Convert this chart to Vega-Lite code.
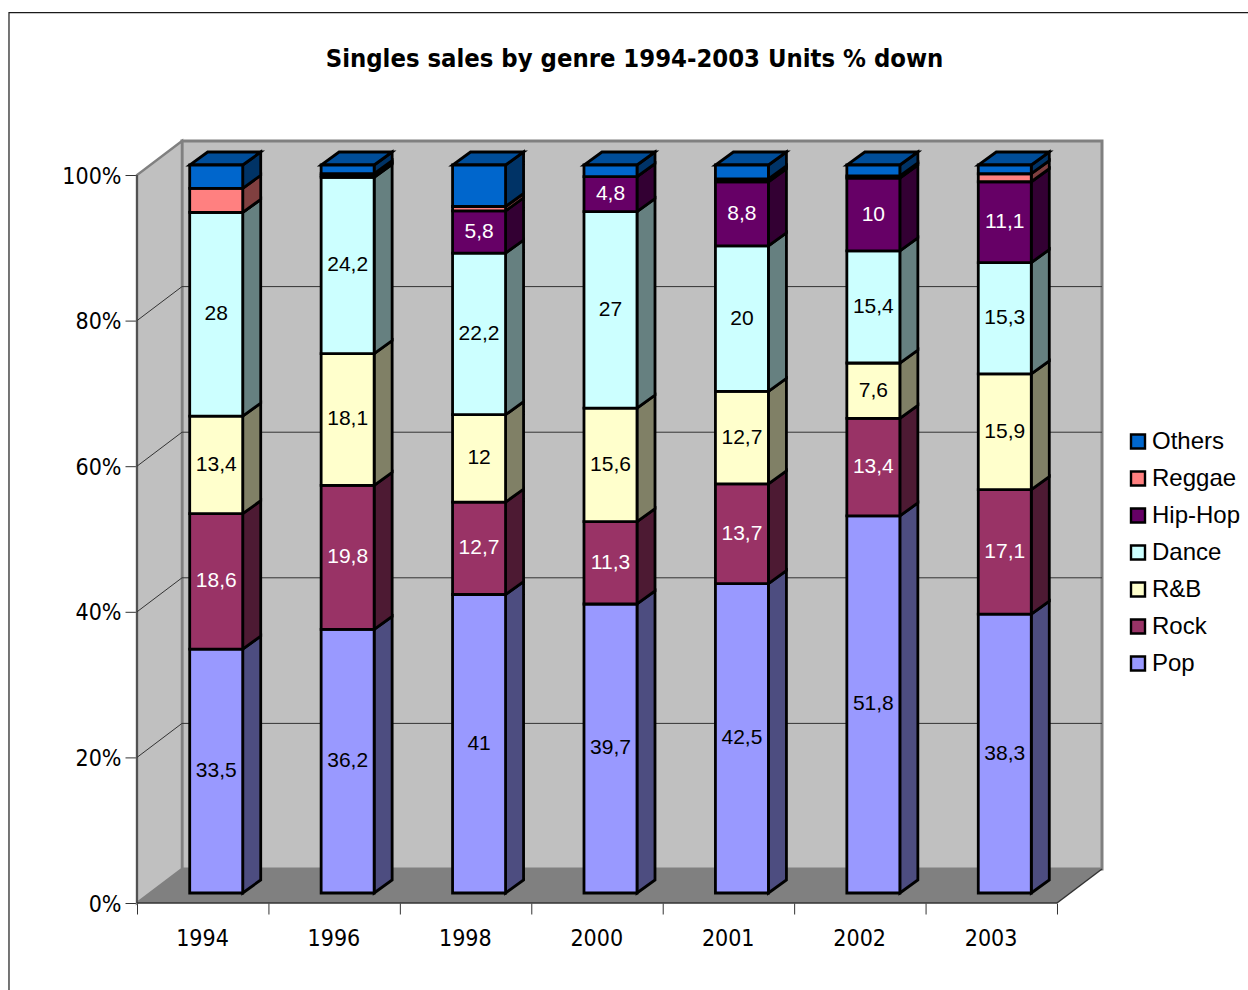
{
  "$schema": "https://vega.github.io/schema/vega-lite/v6.json",
  "width": 965,
  "height": 763,
  "autosize": {"type": "none"},
  "padding": {"left": 137, "top": 140, "right": 146, "bottom": 87},
  "background": "white",
  "config": {"view": {"stroke": null}},
  "title": {
    "text": "Singles sales by genre 1994-2003 Units % down",
    "font": "DejaVu Sans Condensed",
    "fontWeight": "bold",
    "fontSize": 25.4,
    "color": "black",
    "anchor": "middle",
    "frame": "group",
    "dx": 15,
    "offset": -60
  },
  "datasets": {
    "sales": [
      {"year": "1994", "genre": "Pop", "value": 33.5},
      {"year": "1994", "genre": "Rock", "value": 18.6},
      {"year": "1994", "genre": "R&B", "value": 13.4},
      {"year": "1994", "genre": "Dance", "value": 28},
      {"year": "1994", "genre": "Hip-Hop", "value": 0},
      {"year": "1994", "genre": "Reggae", "value": 3.3},
      {"year": "1994", "genre": "Others", "value": 3.2},
      {"year": "1996", "genre": "Pop", "value": 36.2},
      {"year": "1996", "genre": "Rock", "value": 19.8},
      {"year": "1996", "genre": "R&B", "value": 18.1},
      {"year": "1996", "genre": "Dance", "value": 24.2},
      {"year": "1996", "genre": "Hip-Hop", "value": 0.2},
      {"year": "1996", "genre": "Reggae", "value": 0.3},
      {"year": "1996", "genre": "Others", "value": 1.2},
      {"year": "1998", "genre": "Pop", "value": 41},
      {"year": "1998", "genre": "Rock", "value": 12.7},
      {"year": "1998", "genre": "R&B", "value": 12},
      {"year": "1998", "genre": "Dance", "value": 22.2},
      {"year": "1998", "genre": "Hip-Hop", "value": 5.8},
      {"year": "1998", "genre": "Reggae", "value": 0.6},
      {"year": "1998", "genre": "Others", "value": 5.7},
      {"year": "2000", "genre": "Pop", "value": 39.7},
      {"year": "2000", "genre": "Rock", "value": 11.3},
      {"year": "2000", "genre": "R&B", "value": 15.6},
      {"year": "2000", "genre": "Dance", "value": 27},
      {"year": "2000", "genre": "Hip-Hop", "value": 4.8},
      {"year": "2000", "genre": "Reggae", "value": 0},
      {"year": "2000", "genre": "Others", "value": 1.6},
      {"year": "2001", "genre": "Pop", "value": 42.5},
      {"year": "2001", "genre": "Rock", "value": 13.7},
      {"year": "2001", "genre": "R&B", "value": 12.7},
      {"year": "2001", "genre": "Dance", "value": 20},
      {"year": "2001", "genre": "Hip-Hop", "value": 8.8},
      {"year": "2001", "genre": "Reggae", "value": 0.4},
      {"year": "2001", "genre": "Others", "value": 1.9},
      {"year": "2002", "genre": "Pop", "value": 51.8},
      {"year": "2002", "genre": "Rock", "value": 13.4},
      {"year": "2002", "genre": "R&B", "value": 7.6},
      {"year": "2002", "genre": "Dance", "value": 15.4},
      {"year": "2002", "genre": "Hip-Hop", "value": 10},
      {"year": "2002", "genre": "Reggae", "value": 0.3},
      {"year": "2002", "genre": "Others", "value": 1.5},
      {"year": "2003", "genre": "Pop", "value": 38.3},
      {"year": "2003", "genre": "Rock", "value": 17.1},
      {"year": "2003", "genre": "R&B", "value": 15.9},
      {"year": "2003", "genre": "Dance", "value": 15.3},
      {"year": "2003", "genre": "Hip-Hop", "value": 11.1},
      {"year": "2003", "genre": "Reggae", "value": 1.1},
      {"year": "2003", "genre": "Others", "value": 1.2}
    ],
    "depthRange": [{"depth": 0}, {"depth": 1}],
    "gridLevels": [{"pct": 20}, {"pct": 40}, {"pct": 60}, {"pct": 80}],
    "one": [{"part": "chart"}]
  },
  "data": {"name": "sales"},
  "transform": [
    {"calculate": "indexof(['Pop','Rock','R&B','Dance','Hip-Hop','Reggae','Others'], datum.genre)", "as": "order"},
    {"calculate": "indexof(['1994','1996','1998','2000','2001','2002','2003'], datum.year)", "as": "slot"},
    {"stack": "value", "groupby": ["year"], "sort": [{"field": "order", "order": "ascending"}], "as": ["v0", "v1"]},
    {"calculate": "datum.slot + 0.401", "as": "xL"},
    {"calculate": "datum.xL + 0.4033", "as": "xR"},
    {"calculate": "datum.v0 + 1.374", "as": "yLow"},
    {"calculate": "datum.v1 + 1.374", "as": "yHigh"},
    {"calculate": "replace(toString(datum.value), '.', ',')", "as": "valueText"}
  ],
  "layer": [
    {
      "data": {"name": "one"},
      "mark": {"type": "rect", "fill": null, "stroke": "#1a1a1a", "strokeWidth": 1.2},
      "encoding": {
        "x": {
          "datum": -0.974,
          "type": "quantitative",
          "scale": {"domain": [0, 7.3424], "nice": false, "zero": false},
          "axis": {
            "values": [0, 1, 2, 3, 4, 5, 6, 7],
            "labelExpr": "['1994','1996','1998','2000','2001','2002','2003',''][datum.value]",
            "labelOffset": 65,
            "labelFont": "DejaVu Sans Condensed",
            "labelFontSize": 23,
            "labelColor": "black",
            "labelAlign": "center",
            "labelBound": false,
            "labelFlush": false,
            "labelOverlap": false,
            "labelPadding": 13,
            "tickSize": 11,
            "tickRound": false,
            "tickColor": "#333333",
            "domain": false,
            "grid": false,
            "title": null
          }
        },
        "x2": {"datum": 8.6},
        "y": {
          "datum": 122.3,
          "type": "quantitative",
          "scale": {"domain": [0, 104.808], "nice": false, "zero": false},
          "axis": {
            "values": [0, 20, 40, 60, 80, 100],
            "labelExpr": "datum.value + '%'",
            "labelFont": "DejaVu Sans Condensed",
            "labelFontSize": 23,
            "labelColor": "black",
            "labelPadding": 4,
            "labelOffset": 1,
            "tickSize": 12,
            "tickRound": false,
            "tickColor": "#333333",
            "domain": false,
            "grid": false,
            "title": null
          }
        },
        "y2": {"datum": -13}
      }
    },
    {
      "data": {"name": "one"},
      "mark": {"type": "rect", "fill": "#C0C0C0", "stroke": "#808080", "strokeWidth": 3},
      "encoding": {
        "x": {"datum": 0.3424, "type": "quantitative"},
        "x2": {"datum": 7.3424},
        "y": {"datum": 4.67, "type": "quantitative"},
        "y2": {"datum": 104.67}
      }
    },
    {
      "data": {"name": "depthRange"},
      "transform": [
        {"calculate": "datum.depth * 0.3424", "as": "wx"},
        {"calculate": "datum.depth * 4.67", "as": "wy0"},
        {"calculate": "100 + datum.depth * 4.67", "as": "wy1"}
      ],
      "mark": {"type": "area", "fill": "#C0C0C0", "stroke": "#808080", "strokeWidth": 2.5},
      "encoding": {
        "x": {"field": "wx", "type": "quantitative"},
        "y": {"field": "wy0", "type": "quantitative"},
        "y2": {"field": "wy1"}
      }
    },
    {
      "data": {"name": "depthRange"},
      "transform": [
        {"calculate": "datum.depth * 0.3424", "as": "fx0"},
        {"calculate": "7 + datum.depth * 0.3424", "as": "fx1"},
        {"calculate": "datum.depth * 4.67", "as": "fy"}
      ],
      "mark": {"type": "area", "orient": "horizontal", "fill": "#808080"},
      "encoding": {
        "x": {"field": "fx0", "type": "quantitative"},
        "x2": {"field": "fx1"},
        "y": {"field": "fy", "type": "quantitative"}
      }
    },
    {
      "data": {"name": "gridLevels"},
      "transform": [{"calculate": "datum.pct + 4.67", "as": "backY"}],
      "mark": {"type": "rule", "stroke": "#333333", "strokeWidth": 1},
      "encoding": {
        "x": {"datum": 0.3424, "type": "quantitative"},
        "x2": {"datum": 7.3424},
        "y": {"field": "backY", "type": "quantitative"}
      }
    },
    {
      "data": {"name": "gridLevels"},
      "transform": [{"calculate": "datum.pct + 4.67", "as": "backY"}],
      "mark": {"type": "rule", "stroke": "#333333", "strokeWidth": 1},
      "encoding": {
        "x": {"datum": 0, "type": "quantitative"},
        "x2": {"datum": 0.3424},
        "y": {"field": "pct", "type": "quantitative"},
        "y2": {"field": "backY"}
      }
    },
    {
      "data": {"name": "one"},
      "mark": {"type": "rule", "stroke": "#333333", "strokeWidth": 1.2},
      "encoding": {
        "x": {"datum": 0, "type": "quantitative"},
        "y": {"datum": 0, "type": "quantitative"},
        "y2": {"datum": 100}
      }
    },
    {
      "data": {"name": "one"},
      "mark": {"type": "rule", "stroke": "#333333", "strokeWidth": 1.5},
      "encoding": {
        "x": {"datum": 0, "type": "quantitative"},
        "x2": {"datum": 7},
        "y": {"datum": 0, "type": "quantitative"}
      }
    },
    {
      "data": {"name": "one"},
      "mark": {"type": "rule", "stroke": "#333333", "strokeWidth": 1.5},
      "encoding": {
        "x": {"datum": 7, "type": "quantitative"},
        "x2": {"datum": 7.3424},
        "y": {"datum": 0, "type": "quantitative"},
        "y2": {"datum": 4.67}
      }
    },
    {
      "transform": [
        {"calculate": "[0, 1]", "as": "t"},
        {"flatten": ["t"]},
        {"calculate": "datum.xR + datum.t * 0.137", "as": "sx"},
        {"calculate": "datum.yLow + datum.t * 1.786", "as": "sy0"},
        {"calculate": "datum.yHigh + datum.t * 1.786", "as": "sy1"}
      ],
      "mark": {"type": "area", "stroke": "black", "strokeWidth": 2.8, "strokeJoin": "miter"},
      "encoding": {
        "x": {"field": "sx", "type": "quantitative"},
        "y": {"field": "sy0", "type": "quantitative"},
        "y2": {"field": "sy1"},
        "detail": {"field": "year"},
        "fill": {
          "field": "genre",
          "type": "nominal",
          "legend": null,
          "scale": {
            "domain": ["Others", "Reggae", "Hip-Hop", "Dance", "R&B", "Rock", "Pop"],
            "range": ["#003366", "#804040", "#330033", "#668080", "#808066", "#4D1A33", "#4D4D80"]
          }
        }
      }
    },
    {
      "transform": [
        {"filter": "datum.genre === 'Others'"},
        {"calculate": "[0, 1]", "as": "t"},
        {"flatten": ["t"]},
        {"calculate": "datum.xL + datum.t * 0.137", "as": "tx0"},
        {"calculate": "datum.xR + datum.t * 0.137", "as": "tx1"},
        {"calculate": "datum.yHigh + datum.t * 1.786", "as": "ty"}
      ],
      "mark": {"type": "area", "orient": "horizontal", "fill": "#004D99", "stroke": "black", "strokeWidth": 2.8, "strokeJoin": "miter"},
      "encoding": {
        "x": {"field": "tx0", "type": "quantitative"},
        "x2": {"field": "tx1"},
        "y": {"field": "ty", "type": "quantitative"},
        "detail": {"field": "year"}
      }
    },
    {
      "mark": {"type": "rect", "stroke": "black", "strokeWidth": 2.8},
      "encoding": {
        "x": {"field": "xL", "type": "quantitative"},
        "x2": {"field": "xR"},
        "y": {"field": "yLow", "type": "quantitative"},
        "y2": {"field": "yHigh"},
        "fill": {
          "field": "genre",
          "type": "nominal",
          "scale": {
            "domain": ["Others", "Reggae", "Hip-Hop", "Dance", "R&B", "Rock", "Pop"],
            "range": ["#0066CC", "#FF8080", "#660066", "#CCFFFF", "#FFFFCC", "#993366", "#9999FF"]
          },
          "legend": {
            "title": null,
            "orient": "none",
            "legendX": 989,
            "legendY": 289.5,
            "symbolType": "square",
            "symbolSize": 196,
            "symbolStrokeColor": "black",
            "symbolStrokeWidth": 2.4,
            "labelFont": "Liberation Sans",
            "labelFontSize": 24,
            "labelColor": "black",
            "labelOffset": 2,
            "rowPadding": 13,
            "padding": 0
          }
        }
      }
    },
    {
      "transform": [
        {"filter": "datum.value >= 4 && datum.genre !== 'Others'"},
        {"calculate": "(datum.xL + datum.xR) / 2", "as": "cx"},
        {"calculate": "(datum.yLow + datum.yHigh) / 2", "as": "cy"}
      ],
      "mark": {"type": "text", "font": "Liberation Sans", "fontSize": 21, "align": "center", "baseline": "middle"},
      "encoding": {
        "x": {"field": "cx", "type": "quantitative"},
        "y": {"field": "cy", "type": "quantitative"},
        "text": {"field": "valueText", "type": "nominal"},
        "color": {
          "condition": {"test": "datum.genre === 'Rock' || datum.genre === 'Hip-Hop'", "value": "white"},
          "value": "black"
        }
      }
    }
  ],
  "resolve": {"scale": {"fill": "independent"}}
}
